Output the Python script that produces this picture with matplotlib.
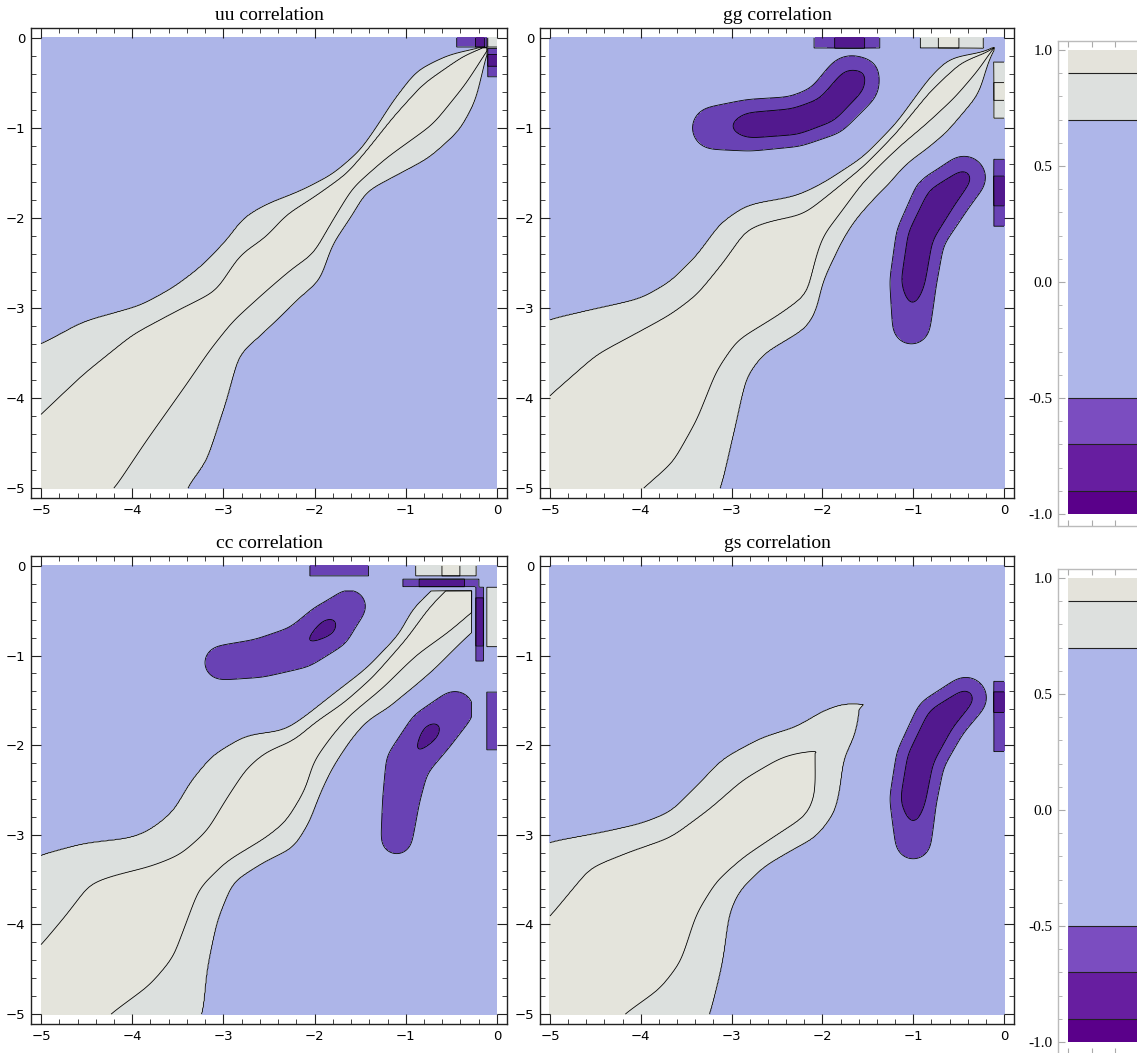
import numpy as np
import matplotlib
matplotlib.use("Agg")
import matplotlib.pyplot as plt
from matplotlib.ticker import MultipleLocator

# contour levels and fill colours (low -> high)
LEVELS = [-1.0, -0.9, -0.7, -0.5, 0.7, 0.9, 1.0]
COLORS = ["#58008c", "#52198e", "#6942b4", "#adb5e8", "#dce0de", "#e4e4dc"]
CBAR_COLORS = ["#5a008a", "#671ea0", "#7b4dc0", "#aeb6e9", "#dde0de", "#e4e3db"]
CBAR_TICKS = [-1.0, -0.5, 0.0, 0.5, 1.0]

# Diagonal band: (position along diagonal u=(x+y)/2,
# half-width in v=y-x) of the 0.7 and 0.9 contours, above (UP) and below (LO)
UU_UP_07 = [(-5.0, 2.4), (-4.2, 1.6), (-3.84, 1.39), (-3.44, 0.94), (-3.16, 0.78), (-2.9, 0.71),
            (-2.61, 0.72), (-2.39, 0.79), (-2.19, 0.69), (-1.93, 0.46), (-1.66, 0.29), (-1.38, 0.25),
            (-1.16, 0.33), (-0.92, 0.44), (-0.62, 0.52), (-0.35, 0.34), (-0.11, 0.02), (0.0, -0.05)]
UU_UP_09 = [(-4.59, 0.82), (-4.13, 0.80), (-3.64, 0.70), (-3.27, 0.48), (-2.95, 0.27), (-2.61, 0.41),
            (-2.37, 0.32), (-2.14, 0.35), (-1.89, 0.24), (-1.58, 0.14), (-1.34, 0.18), (-1.01, 0.26),
            (-0.66, 0.30), (-0.26, 0.16), (-0.11, 0.02), (0.0, -0.03)]
UU_LO_07 = [(-5.0, 2.4), (-4.2, 1.6), (-3.94, 1.52), (-3.5, 1.07), (-3.17, 0.69), (-2.89, 0.72),
            (-2.52, 0.72), (-2.32, 0.76), (-2.05, 0.49), (-1.77, 0.38), (-1.57, 0.27), (-1.29, 0.44),
            (-1.04, 0.59), (-0.72, 0.62), (-0.47, 0.47), (-0.26, 0.21), (-0.12, 0.03), (0.0, -0.05)]
UU_LO_09 = [(-4.6, 0.81), (-4.16, 0.63), (-3.62, 0.44), (-3.31, 0.32), (-3.02, 0.25), (-2.67, 0.28),
            (-2.39, 0.32), (-2.21, 0.39), (-1.92, 0.23), (-1.62, 0.08), (-1.27, 0.12), (-0.83, 0.26),
            (-0.43, 0.17), (-0.18, 0.06), (0.0, -0.02)]

GG_UP_07 = [(-5.0, 2.6), (-4.06, 1.88), (-3.74, 1.48), (-3.45, 1.11), (-3.19, 0.97), (-2.9, 0.97),
            (-2.59, 1.07), (-2.34, 0.98), (-2.02, 0.53), (-1.8, 0.38), (-1.44, 0.23), (-1.07, 0.24),
            (-0.63, 0.38), (-0.41, 0.38), (-0.16, 0.02), (0.0, -0.05)]
GG_UP_09 = [(-4.49, 1.03), (-4.0, 0.97), (-3.63, 0.75), (-3.37, 0.60), (-3.12, 0.53), (-2.79, 0.60),
            (-2.48, 0.71), (-2.31, 0.55), (-2.09, 0.25), (-1.89, 0.20), (-1.49, 0.12), (-1.13, 0.13),
            (-0.7, 0.22), (-0.36, 0.20), (-0.16, 0.01), (0.0, -0.03)]
GG_LO_07 = [(-5.0, 2.6), (-4.06, 1.89), (-3.7, 1.44), (-3.3, 0.93), (-3.08, 0.86), (-2.7, 1.05),
            (-2.55, 0.97), (-2.35, 0.71), (-2.0, 0.46), (-1.82, 0.38), (-1.55, 0.35), (-1.2, 0.38),
            (-0.85, 0.42), (-0.45, 0.35), (-0.19, 0.06), (0.0, -0.05)]
GG_LO_09 = [(-4.49, 1.03), (-4.18, 1.07), (-3.81, 0.86), (-3.43, 0.53), (-3.15, 0.42), (-2.77, 0.60),
            (-2.51, 0.68), (-2.24, 0.35), (-2.09, 0.20), (-1.93, 0.16), (-1.58, 0.05), (-1.2, 0.05),
            (-0.9, 0.10), (-0.6, 0.12), (-0.3, 0.07), (-0.16, 0.01), (0.0, -0.03)]

CC_UP_07 = [(-5.0, 2.5), (-4.11, 1.78), (-3.81, 1.44), (-3.51, 0.96), (-3.37, 0.86), (-3.15, 0.81),
            (-2.88, 0.96), (-2.61, 1.01), (-2.31, 0.86), (-2.09, 0.50), (-1.9, 0.43), (-1.62, 0.37),
            (-1.29, 0.29), (-0.92, 0.31), (-0.7, 0.45), (-0.48, 0.44), (0.0, 0.5)]
CC_UP_09 = [(-4.62, 0.77), (-4.31, 0.83), (-4.0, 0.92), (-3.81, 0.73), (-3.58, 0.45), (-3.35, 0.25),
            (-3.07, 0.22), (-2.78, 0.37), (-2.5, 0.49), (-2.3, 0.46), (-2.09, 0.28), (-1.87, 0.25),
            (-1.6, 0.15), (-1.3, 0.12), (-0.9, 0.18), (-0.6, 0.28), (0.0, 0.3)]
CC_LO_07 = [(-5.0, 2.5), (-4.11, 1.78), (-3.85, 1.34), (-3.52, 0.90), (-3.21, 0.63), (-2.91, 0.76),
            (-2.69, 0.92), (-2.45, 0.80), (-2.25, 0.61), (-2.03, 0.45), (-1.78, 0.34), (-1.58, 0.30),
            (-1.29, 0.44), (-0.94, 0.47), (-0.64, 0.46), (-0.5, 0.47), (0.0, 0.5)]
CC_LO_09 = [(-4.62, 0.76), (-4.24, 0.87), (-3.96, 0.82), (-3.69, 0.57), (-3.43, 0.33), (-3.13, 0.33),
            (-2.78, 0.50), (-2.58, 0.54), (-2.29, 0.39), (-2.1, 0.17), (-1.84, 0.08), (-1.64, 0.05),
            (-1.31, 0.11), (-0.94, 0.11), (-0.63, 0.21), (0.0, 0.3)]

GS_UP_07 = [(-5.0, 2.7), (-4.04, 1.93), (-3.73, 1.50), (-3.44, 1.13), (-3.21, 0.93), (-2.96, 0.93),
            (-2.62, 0.95), (-2.28, 0.75), (-2.04, 0.49), (-1.8, 0.38), (-1.63, 0.22), (-1.56, 0.07),
            (-1.45, -0.3), (0.0, -0.3)]
GS_UP_09 = [(-4.46, 1.09), (-3.96, 1.19), (-3.65, 0.93), (-3.35, 0.64), (-2.97, 0.53), (-2.63, 0.49),
            (-2.28, 0.31), (-2.08, 0.05), (-1.95, -0.3), (0.0, -0.3)]
GS_LO_07 = [(-5.0, 2.5), (-4.12, 1.77), (-3.76, 1.33), (-3.45, 0.85), (-3.27, 0.71), (-3.0, 0.71),
            (-2.71, 0.86), (-2.55, 0.96), (-2.3, 0.89), (-2.1, 0.62), (-1.97, 0.39), (-1.77, 0.26),
            (-1.65, 0.10), (-1.57, -0.02), (-1.45, -0.3), (0.0, -0.3)]
GS_LO_09 = [(-4.59, 0.82), (-4.25, 0.93), (-3.99, 0.86), (-3.63, 0.49), (-3.34, 0.35), (-3.06, 0.38),
            (-2.75, 0.50), (-2.48, 0.61), (-2.32, 0.49), (-2.19, 0.22), (-2.08, 0.0), (-1.95, -0.3),
            (0.0, -0.3)]

# anticorrelated lobes, each a spine of (x, y, half-width of -0.5 contour, minimum value)
UU_LOBES = []
GG_LOBES = [
    [(-3.2, -1.0, 0.28, -0.64), (-2.8, -0.97, 0.31, -0.77), (-2.3, -0.93, 0.3, -0.78),
     (-1.95, -0.8, 0.31, -0.77), (-1.68, -0.5, 0.33, -0.77), (-1.55, -0.4, 0.2, -0.72)],
    [(-1.02, -3.2, 0.25, -0.64), (-1.0, -2.7, 0.28, -0.78), (-0.92, -2.2, 0.29, -0.78),
     (-0.7, -1.8, 0.33, -0.78), (-0.44, -1.55, 0.27, -0.74)],
]
CC_LOBES = [
    [(-3.02, -1.08, 0.25, -0.58), (-2.6, -1.03, 0.26, -0.62), (-2.15, -0.9, 0.27, -0.7),
     (-1.85, -0.68, 0.29, -0.74), (-1.62, -0.45, 0.23, -0.64)],
    [(-1.1, -3.05, 0.23, -0.58), (-1.05, -2.6, 0.25, -0.62), (-0.98, -2.2, 0.27, -0.69),
     (-0.72, -1.85, 0.29, -0.74), (-0.46, -1.6, 0.25, -0.64)],
]
GS_LOBES = [
    [(-2.24, -1.0, 0.11, -0.58), (-2.22, -0.94, 0.1, -0.58)],
    [(-1.0, -3.08, 0.24, -0.64), (-1.0, -2.6, 0.28, -0.79), (-0.92, -2.15, 0.29, -0.79),
     (-0.7, -1.72, 0.31, -0.79), (-0.42, -1.47, 0.26, -0.75)],
]

# rows / columns next to the x=0, y=0 edges: (lo, hi, [(start, end, value), ...])
UU_EDGE = 0.1
UU_ROWS = [(-0.1, 0.0, [(-0.44, -0.1, -0.6), (-0.24, -0.13, -0.8), (-0.1, 0.0, 0.8)])]
UU_COLS = [(-0.1, 0.0, [(-0.43, -0.12, -0.6), (-0.32, -0.18, -0.8)])]
GG_EDGE = 0.11
GG_ROWS = [(-0.11, 0.0, [(-2.09, -1.36, -0.6), (-1.86, -1.53, -0.8), (-0.92, -0.22, 0.8),
                         (-0.72, -0.5, 0.95)])]
GG_COLS = [(-0.11, 0.0, [(-0.9, -0.26, 0.8), (-0.7, -0.5, 0.95), (-2.09, -1.35, -0.6),
                         (-1.86, -1.53, -0.8)])]
CC_EDGE = 0.27
CC_ROWS = [(-0.11, 0.0, [(-2.05, -1.41, -0.6), (-0.9, -0.22, 0.8), (-0.6, -0.4, 0.95)]),
           (-0.23, -0.15, [(-1.03, -0.2, -0.6), (-0.85, -0.35, -0.75)])]
CC_COLS = [(-0.11, 0.0, [(-0.91, -0.24, 0.8), (-2.05, -1.41, -0.6)]),
           (-0.23, -0.15, [(-1.06, -0.23, -0.6), (-0.9, -0.35, -0.75)])]
GS_EDGE = 0.11
GS_ROWS = []
GS_COLS = [(-0.11, 0.0, [(-2.07, -1.28, -0.6), (-1.63, -1.41, -0.8)])]

GRID = np.linspace(-5, 0, 501)
GX, GY = np.meshgrid(GRID, GRID)
U_FINE = np.linspace(-5.5, 0.5, 601)
KERNEL = np.exp(-0.5 * (np.arange(-25, 26) * 0.01 / 0.07) ** 2)
KERNEL /= KERNEL.sum()
BLUR = np.exp(-0.5 * (np.arange(-21, 22) / 7.0) ** 2)
BLUR /= BLUR.sum()


def width_at(u, knots):
    k = np.array(knots)
    w = np.interp(U_FINE, k[:, 0], k[:, 1])
    w = np.convolve(np.pad(w, 25, mode="edge"), KERNEL, mode="valid")
    return np.interp(u, U_FINE, w)


def blur2d(z):
    p = len(BLUR) // 2
    zp = np.pad(z, p, mode="edge")
    zp = np.apply_along_axis(lambda r: np.convolve(r, BLUR, mode="valid"), 1, zp)
    return np.apply_along_axis(lambda c: np.convolve(c, BLUR, mode="valid"), 0, zp)


def band_field(up07, up09, lo07, lo09):
    u = (GX + GY) / 2
    v = GY - GX
    above = v >= 0
    w7 = np.where(above, width_at(u, up07), width_at(u, lo07))
    w9 = np.where(above, width_at(u, up09), width_at(u, lo09))
    d = np.abs(v)
    inner = 1.0 - 0.1 * d / np.maximum(w9, 1e-6)
    mid = 0.9 - 0.2 * (d - w9) / np.maximum(w7 - w9, 1e-6)
    outer = 0.7 * np.clip(1 - (d - w7) / 0.3, 0, 1)
    return np.where(d <= w9, inner, np.where(d <= w7, mid, outer))


def lobe_field(lobes):
    z = np.zeros_like(GX)
    for spine in lobes:
        for (x0, y0, w0, p0), (x1, y1, w1, p1) in zip(spine[:-1], spine[1:]):
            dx, dy = x1 - x0, y1 - y0
            t = np.clip(((GX - x0) * dx + (GY - y0) * dy) / (dx * dx + dy * dy), 0, 1)
            w = w0 + t * (w1 - w0)
            pk = p0 + t * (p1 - p0)
            r2 = ((GX - x0 - t * dx) ** 2 + (GY - y0 - t * dy) ** 2) / w ** 2
            val = np.where(r2 <= 1, pk + (-0.5 - pk) * r2,
                           -0.5 * np.clip(1 - (np.sqrt(r2) - 1) / 0.5, 0, 1))
            z = np.minimum(z, val)
    return blur2d(z) if lobes else z


def edge_field(z, edge, rows, cols):
    z = np.where((GX > -edge) | (GY > -edge), 0.0, z)
    for lo, hi, segs in rows:
        sel = (GY >= lo - 1e-9) & (GY <= hi + 1e-9)
        for a, b, val in segs:
            z = np.where(sel & (GX >= a) & (GX <= b), val, z)
    for lo, hi, segs in cols:
        sel = (GX >= lo - 1e-9) & (GX <= hi + 1e-9)
        for a, b, val in segs:
            z = np.where(sel & (GY >= a) & (GY <= b), val, z)
    return z


def build(up07, up09, lo07, lo09, lobes, edge, rows, cols):
    z = band_field(up07, up09, lo07, lo09) + lobe_field(lobes)
    z = edge_field(z, edge, rows, cols)
    return np.clip(z, -1.0, 1.0)


def draw_panel(ax, z, title):
    ax.contourf(GX, GY, z, levels=LEVELS, colors=COLORS)
    ax.contour(GX, GY, z, levels=LEVELS[1:-1], colors="black", linewidths=0.6,
               linestyles="solid")
    ax.set_xlim(-5.11, 0.11)
    ax.set_ylim(-5.11, 0.11)
    ax.set_title(title, fontfamily="Liberation Serif", fontsize=14, pad=6)
    for axis in (ax.xaxis, ax.yaxis):
        axis.set_major_locator(MultipleLocator(1))
        axis.set_minor_locator(MultipleLocator(0.2))
    ax.tick_params(which="both", direction="in", top=True, right=True, labelsize=9.5,
                   color="#222222")
    ax.tick_params(which="major", length=7, width=0.8, pad=4)
    ax.tick_params(which="minor", length=3.5, width=0.6)
    for s in ax.spines.values():
        s.set_color("#222222")
        s.set_linewidth(1.0)


def draw_legend(ax):
    gy = np.linspace(-1, 1, 401)
    gx = np.array([0.0, 1.5])
    cx, cy = np.meshgrid(gx, gy)
    ax.contourf(cx, cy, cy, levels=LEVELS, colors=CBAR_COLORS)
    ax.hlines(LEVELS[1:-1], 0, 1.5, colors="#222222", linewidth=0.8)
    ax.set_xlim(-10 / 235, 1.0)
    ax.set_ylim(-1.052, 1.039)
    ax.set_yticks(CBAR_TICKS)
    ax.set_yticklabels([f"{t:.1f}" for t in CBAR_TICKS], fontfamily="Liberation Serif", fontsize=11)
    ax.yaxis.set_minor_locator(MultipleLocator(0.1))
    ax.xaxis.set_major_locator(MultipleLocator(0.1))
    ax.tick_params(axis="x", which="both", direction="in", top=True, bottom=True,
                   labelbottom=False, length=4, color="#aaaaaa")
    ax.tick_params(axis="y", which="major", direction="in", length=5, color="#aaaaaa", pad=4)
    ax.tick_params(axis="y", which="minor", direction="in", length=3, color="#aaaaaa")
    for s in ax.spines.values():
        s.set_color("#bbbbbb")
        s.set_linewidth(1.0)


W, H = 1137, 1053


def px(l, t, r, b):
    return [l / W, 1 - b / H, (r - l) / W, (b - t) / H]


fig = plt.figure(figsize=(W / 100, H / 100), dpi=100)

panels = [
    ("uu correlation", px(31, 28, 507, 498),
     build(UU_UP_07, UU_UP_09, UU_LO_07, UU_LO_09, UU_LOBES, UU_EDGE, UU_ROWS, UU_COLS)),
    ("gg correlation", px(540, 28, 1014, 498),
     build(GG_UP_07, GG_UP_09, GG_LO_07, GG_LO_09, GG_LOBES, GG_EDGE, GG_ROWS, GG_COLS)),
    ("cc correlation", px(31, 556, 507, 1024),
     build(CC_UP_07, CC_UP_09, CC_LO_07, CC_LO_09, CC_LOBES, CC_EDGE, CC_ROWS, CC_COLS)),
    ("gs correlation", px(540, 556, 1014, 1024),
     build(GS_UP_07, GS_UP_09, GS_LO_07, GS_LO_09, GS_LOBES, GS_EDGE, GS_ROWS, GS_COLS)),
]
for title, rect, z in panels:
    ax = fig.add_axes(rect)
    draw_panel(ax, z, title)

for top, bottom in [(41, 526), (569, 1054)]:
    cax = fig.add_axes(px(1058, top, 1058 + 245, bottom))
    draw_legend(cax)

fig.savefig("out.png", dpi=100)
plt.close(fig)
